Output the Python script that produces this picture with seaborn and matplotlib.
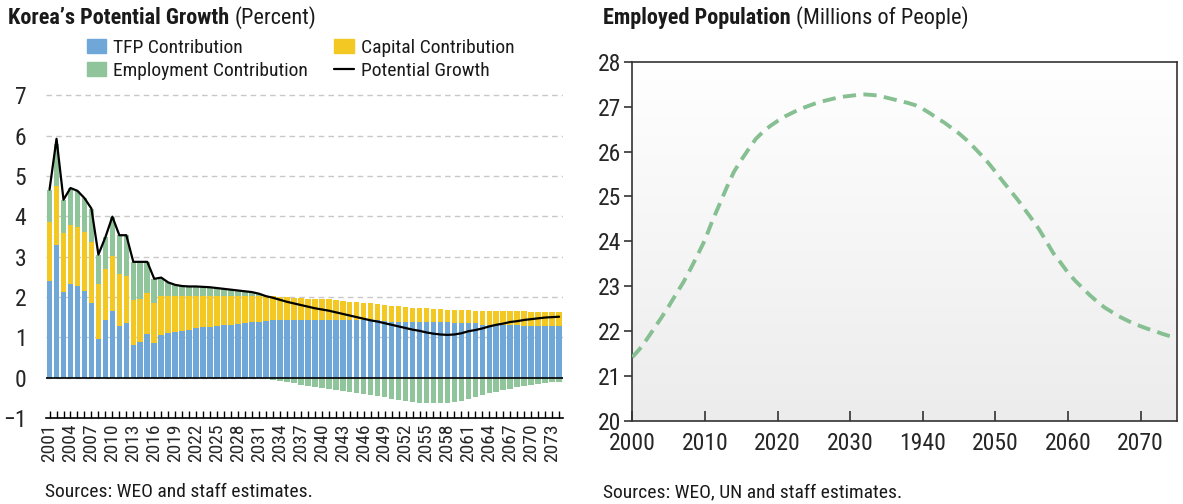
import numpy as np
import pandas as pd
import matplotlib
matplotlib.use("Agg")
import matplotlib.pyplot as plt
import seaborn as sns
from matplotlib.lines import Line2D
from matplotlib.patches import Patch
from matplotlib.colors import LinearSegmentedColormap
from matplotlib import font_manager

# --- left panel: contributions to potential growth (percent) ---
years = list(range(2001, 2075))
tfp = [2.40, 3.29, 2.13, 2.32, 2.27, 2.15, 1.86, 0.96, 1.43, 1.65,
       1.29, 1.36, 0.81, 0.89, 1.07, 0.86, 1.06, 1.11, 1.14, 1.16,
       1.18, 1.22, 1.25, 1.26, 1.28, 1.30, 1.31, 1.33, 1.35, 1.37,
       1.39, 1.41, 1.42, 1.43, 1.43, 1.43, 1.43, 1.43, 1.43, 1.43,
       1.43, 1.43, 1.43, 1.43, 1.43, 1.43, 1.43, 1.43, 1.40, 1.37,
       1.37, 1.37, 1.37, 1.37, 1.37, 1.37, 1.37, 1.37, 1.35, 1.35,
       1.35, 1.35, 1.31, 1.31, 1.31, 1.31, 1.31, 1.31, 1.29, 1.29,
       1.29, 1.29, 1.29, 1.29]
capital = [1.46, 1.47, 1.46, 1.46, 1.46, 1.45, 1.51, 1.37, 1.27, 1.36,
           1.29, 1.16, 1.12, 1.07, 1.04, 1.00, 0.97, 0.92, 0.89, 0.87,
           0.85, 0.81, 0.78, 0.77, 0.75, 0.73, 0.72, 0.70, 0.68, 0.66,
           0.64, 0.62, 0.61, 0.58, 0.56, 0.55, 0.54, 0.53, 0.52, 0.52,
           0.51, 0.49, 0.47, 0.45, 0.44, 0.42, 0.41, 0.40, 0.40, 0.41,
           0.40, 0.38, 0.36, 0.35, 0.35, 0.34, 0.33, 0.31, 0.32, 0.32,
           0.32, 0.31, 0.35, 0.35, 0.35, 0.34, 0.34, 0.33, 0.35, 0.34,
           0.34, 0.34, 0.34, 0.34]
employment = [0.80, 1.04, 0.82, 0.92, 0.90, 0.85, 0.82, 0.72, 0.78, 0.98,
              0.95, 1.01, 0.94, 0.91, 0.76, 0.59, 0.45, 0.33, 0.27, 0.24,
              0.23, 0.23, 0.22, 0.21, 0.19, 0.17, 0.15, 0.13, 0.11, 0.09,
              0.05, -0.02, -0.05, -0.08, -0.11, -0.14, -0.17, -0.20, -0.23, -0.26,
              -0.28, -0.31, -0.33, -0.35, -0.38, -0.41, -0.43, -0.46, -0.49, -0.52,
              -0.55, -0.57, -0.60, -0.62, -0.64, -0.64, -0.64, -0.63, -0.61, -0.57,
              -0.52, -0.48, -0.44, -0.39, -0.35, -0.31, -0.27, -0.24, -0.21, -0.18,
              -0.16, -0.14, -0.12, -0.10]
potential = [4.66, 5.92, 4.41, 4.70, 4.63, 4.45, 4.19, 3.05, 3.48, 3.99,
             3.53, 3.53, 2.87, 2.87, 2.87, 2.45, 2.48, 2.36, 2.30, 2.27,
             2.26, 2.26, 2.25, 2.24, 2.22, 2.20, 2.18, 2.16, 2.14, 2.12,
             2.08, 2.02, 1.98, 1.93, 1.88, 1.84, 1.80, 1.76, 1.72, 1.69,
             1.66, 1.62, 1.58, 1.54, 1.50, 1.46, 1.42, 1.39, 1.35, 1.31,
             1.27, 1.23, 1.19, 1.16, 1.12, 1.09, 1.07, 1.06, 1.07, 1.10,
             1.15, 1.18, 1.22, 1.27, 1.31, 1.34, 1.38, 1.40, 1.43, 1.45,
             1.47, 1.49, 1.50, 1.51]
growth_yticks = [-1, 0, 1, 2, 3, 4, 5, 6, 7]

# --- right panel: employed population (millions) ---
pop_years = list(range(2000, 2076))
employed = [21.42, 21.60, 21.82, 22.06, 22.30, 22.55, 22.82, 23.08, 23.38, 23.70,
            24.03, 24.45, 24.82, 25.20, 25.55, 25.81, 26.05, 26.28, 26.44, 26.57,
            26.68, 26.78, 26.86, 26.94, 27.00, 27.06, 27.11, 27.15, 27.19, 27.22,
            27.24, 27.26, 27.27, 27.26, 27.24, 27.20, 27.16, 27.12, 27.08, 27.03,
            26.95, 26.85, 26.74, 26.64, 26.52, 26.40, 26.26, 26.10, 25.93, 25.75,
            25.55, 25.34, 25.14, 24.94, 24.72, 24.50, 24.27, 24.00, 23.73, 23.52,
            23.30, 23.12, 22.96, 22.80, 22.66, 22.53, 22.43, 22.33, 22.25, 22.17,
            22.11, 22.05, 22.00, 21.94, 21.89, 21.85]
pop_xticks = [2000, 2010, 2020, 2030, 2040, 2050, 2060, 2070]
pop_xticklabels = ["2000", "2010", "2020", "2030", "1940", "2050", "2060", "2070"]
pop_yticks = [20, 21, 22, 23, 24, 25, 26, 27, 28]

BLUE = "#6fa7d8"
YELLOW = "#f3c823"
GREEN = "#90c59b"
LINE_GREEN = "#86bf91"

sns.set_theme(style="white")
# pick a condensed face if one is there, otherwise a fairly narrow one
installed = {f.name for f in font_manager.fontManager.ttflist}
narrow = [f for f in ["Roboto Condensed", "Liberation Sans Narrow", "Noto Sans Condensed"]
          if f in installed]
condensed = bool(narrow)
plt.rcParams["font.family"] = narrow + ["Roboto", "DejaVu Sans"]
plt.rcParams["axes.unicode_minus"] = True
plt.rcParams["text.color"] = "#1a1a1a"
k = 1.0 if condensed else 0.86  # shrink text when only a normal-width face exists

W, H = 1183, 504
fig = plt.figure(figsize=(W / 100, H / 100), dpi=100)
ax1 = fig.add_axes([45.7 / W, 1 - 418 / H, (563.3 - 45.7) / W, (418 - 94) / H])
ax2 = fig.add_axes([632.3 / W, 1 - 421 / H, (1177 - 632.3) / W, (421 - 61.7) / H])

# stacked bars
df = pd.DataFrame({"year": [str(y) for y in years], "tfp": tfp,
                   "capital": capital, "employment": employment,
                   "potential": potential})
tfp_a = np.array(tfp)
cap_a = np.array(capital)
emp_a = np.array(employment)
emp_bottom = np.where(emp_a >= 0, tfp_a + cap_a, 0)

bar_kw = dict(width=0.8, saturation=1, errorbar=None, linewidth=0, zorder=2, ax=ax1)
sns.barplot(data=df, x="year", y="tfp", color=BLUE, **bar_kw)
sns.barplot(data=df, x="year", y="capital", color=YELLOW, bottom=tfp_a, **bar_kw)
sns.barplot(data=df, x="year", y="employment", color=GREEN, bottom=emp_bottom, **bar_kw)
sns.lineplot(data=df, x="year", y="potential", color="black", lw=1.6, zorder=4,
             sort=False, ax=ax1)
ax1.axhline(0, color="black", lw=1.2, zorder=5)

ax1.set_xlim(-0.55, len(years) - 0.4)
ax1.set_ylim(-1, 7.03)
ax1.set_yticks(growth_yticks)
ax1.set_yticklabels([str(v).replace("-", "\u2212") for v in growth_yticks])
ax1.set_xticks(range(len(years)))
ax1.set_xticklabels([str(y) if (y - 2001) % 3 == 0 else "" for y in years],
                    rotation=90)
ax1.set_xlabel("")
ax1.set_ylabel("")
for s in ["top", "left", "right"]:
    ax1.spines[s].set_visible(False)
ax1.spines["bottom"].set_color("black")
ax1.spines["bottom"].set_linewidth(1.2)
ax1.yaxis.grid(True, linestyle=(0, (4, 3)), color="#c8c8c8", lw=1)
ax1.xaxis.grid(False)
ax1.set_axisbelow(True)
ax1.tick_params(axis="y", length=0, pad=14, labelsize=17 * k)
ax1.tick_params(axis="x", direction="in", length=5, width=1, color="black",
                bottom=True, pad=4, labelsize=14 * k)

# right panel
grad = LinearSegmentedColormap.from_list("bg", ["#ffffff", "#ececec"])
ax2.imshow(np.linspace(0, 1, 256).reshape(-1, 1), extent=[0, 1, 0, 1],
           transform=ax2.transAxes, cmap=grad, aspect="auto", zorder=0)
sns.lineplot(x=pop_years, y=employed, color=LINE_GREEN, lw=2.8,
             linestyle=(0, (3.4, 1.9)), zorder=3, ax=ax2)
ax2.set_xlim(2000, 2075)
ax2.set_ylim(20, 28)
ax2.set_xticks(pop_xticks)
ax2.set_xticklabels(pop_xticklabels)
ax2.set_yticks(pop_yticks)
for s in ax2.spines.values():
    s.set_visible(True)
    s.set_color("#333333")
    s.set_linewidth(1.2)
ax2.grid(False)
ax2.tick_params(axis="y", direction="out", length=6, width=1.2, color="#333333",
                left=True, labelsize=17 * k, pad=2)
ax2.tick_params(axis="x", direction="in", length=7, width=1.2, color="#333333",
                bottom=True, labelsize=17 * k, pad=8)

# titles with bold lead-in and plain unit text
def title(x, y, bold, rest):
    t = fig.text(x / W, 1 - y / H, bold, fontsize=16 * k, fontweight="bold", va="center")
    fig.canvas.draw()
    bb = t.get_window_extent()
    fig.text(bb.x1 / W + 5 / W, 1 - y / H, rest, fontsize=16 * k, va="center")

title(8, 18, "Korea\u2019s Potential Growth", "(Percent)")
title(603, 18, "Employed Population", "(Millions of People)")

handles = [Patch(color=BLUE), Patch(color=GREEN), Patch(color=YELLOW),
           Line2D([0], [0], color="black", lw=1.6)]
labels = ["TFP Contribution", "Employment Contribution", "Capital Contribution",
          "Potential Growth"]
fig.legend(handles, labels, ncol=2, loc="upper left",
           bbox_to_anchor=(87 / W, 1 - 39 / H), frameon=False, fontsize=14 * k,
           handlelength=1.0, handleheight=0.75, handletextpad=0.35,
           columnspacing=1.35, labelspacing=0.25, borderpad=0, borderaxespad=0)

fig.text(45 / W, 1 - 492 / H, "Sources: WEO and staff estimates.", fontsize=14 * k,
         va="center")
fig.text(603 / W, 1 - 492 / H, "Sources: WEO, UN and staff estimates.",
         fontsize=14 * k, va="center")

fig.savefig("out.png", dpi=100)
